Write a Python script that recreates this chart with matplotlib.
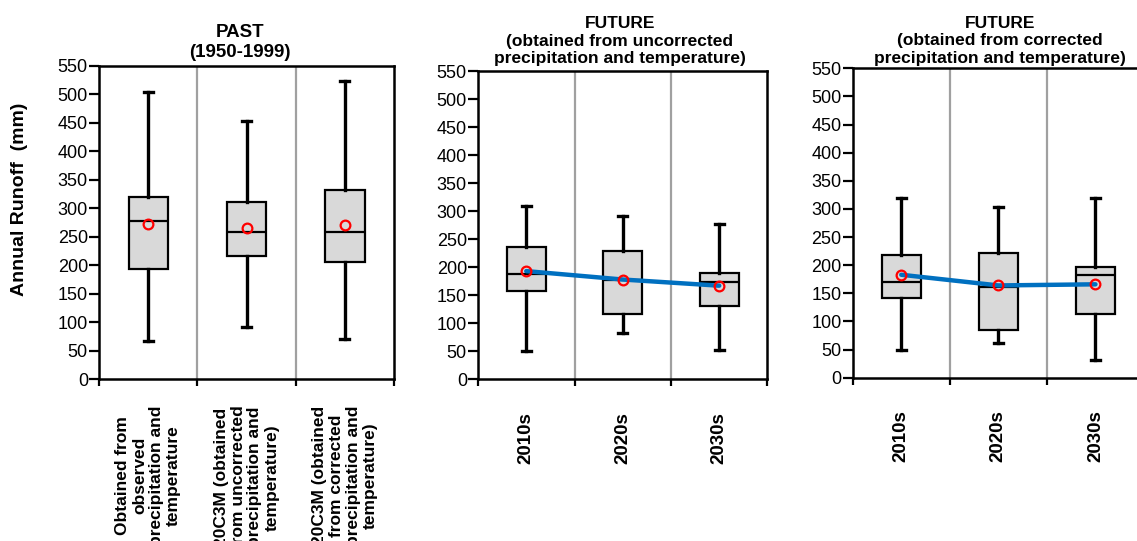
import matplotlib
matplotlib.use("Agg")
import matplotlib.pyplot as plt

plt.rcParams['font.family'] = ['Liberation Sans', 'DejaVu Sans']

# ---- data ----
past_labels = ["Obtained from\nobserved\nprecipitation and\ntemperature",
               "20C3M (obtained\nfrom uncorrected\nprecipitation and\ntemperature)",
               "20C3M (obtained\nfrom corrected\nprecipitation and\ntemperature)"]
past_whislo = [67, 91, 70]
past_q1 = [194, 217, 205]
past_med = [277, 258, 258]
past_q3 = [319, 311, 332]
past_whishi = [504, 454, 523]
past_mean = [272, 265, 271]

fut_labels = ["2010s", "2020s", "2030s"]

unc_whislo = [51, 83, 53]
unc_q1 = [158, 117, 131]
unc_med = [188, 177, 174]
unc_q3 = [236, 229, 190]
unc_whishi = [310, 291, 277]
unc_mean = [193, 178, 167]

cor_whislo = [50, 61, 32]
cor_q1 = [141, 84, 114]
cor_med = [170, 162, 183]
cor_q3 = [218, 221, 197]
cor_whishi = [319, 303, 319]
cor_mean = [183, 164, 166]

titles = ["PAST\n(1950-1999)",
          "FUTURE\n(obtained from uncorrected\nprecipitation and temperature)",
          "FUTURE\n(obtained from corrected\nprecipitation and temperature)"]

W, H = 1137, 541
fig = plt.figure(figsize=(W / 100, H / 100), dpi=100)

rects = [
    (99 / W, 1 - 379 / H, 295 / W, 313 / H),
    (478 / W, 1 - 379.3 / H, 289.5 / W, 308.3 / H),
    (852.7 / W, 1 - 377.7 / H, 291.3 / W, 309.4 / H),
]

datasets = [
    (past_labels, past_whislo, past_q1, past_med, past_q3, past_whishi, past_mean, False),
    (fut_labels, unc_whislo, unc_q1, unc_med, unc_q3, unc_whishi, unc_mean, True),
    (fut_labels, cor_whislo, cor_q1, cor_med, cor_q3, cor_whishi, cor_mean, True),
]

title_fs = [13.5, 12.5, 12.5]
title_ls = [1.27, 1.24, 1.24]
title_pad = [6.3, 5.4, 3.6]
title_x = [0.478, 0.49, 0.505]

for i, (rect, ds, title) in enumerate(zip(rects, datasets, titles)):
    labels, wlo, q1, med, q3, whi, mean, line = ds
    ax = fig.add_axes(rect)
    stats = []
    for k in range(len(labels)):
        stats.append(dict(med=med[k], q1=q1[k], q3=q3[k], whislo=wlo[k],
                          whishi=whi[k], fliers=[], label=labels[k]))
    pos = [1, 2, 3]
    ax.bxp(stats, positions=pos, widths=0.4, showfliers=False, patch_artist=True,
           capwidths=0.09,
           boxprops=dict(facecolor='#D9D9D9', edgecolor='black', linewidth=1.6),
           medianprops=dict(color='black', linewidth=1.6),
           whiskerprops=dict(color='black', linewidth=2.4),
           capprops=dict(color='black', linewidth=2.4), zorder=3)
    if line:
        ax.plot(pos, mean, color='#0070C0', linewidth=3.2, zorder=4,
                solid_capstyle='round')
    ax.plot(pos, mean, linestyle='none', marker='o', markersize=7,
            markerfacecolor='none', markeredgecolor='red', markeredgewidth=1.6,
            zorder=5)

    ax.set_xlim(0.5, 3.5)
    ax.set_ylim(0, 550)
    ax.set_yticks(range(0, 551, 50))
    ax.set_xticks([0.5, 1.5, 2.5, 3.5])
    ax.set_xticklabels([])
    ax.set_xticks(pos, minor=True)
    if i == 0:
        ax.set_xticklabels(labels, minor=True, rotation=90, fontsize=12.5,
                           fontweight='bold', multialignment='center', linespacing=1.16)
        ax.tick_params(axis='x', which='minor', length=0, pad=19)
    else:
        ax.set_xticklabels(labels, minor=True, rotation=90, fontsize=13.5,
                           fontweight='bold')
        ax.tick_params(axis='x', which='minor', length=0, pad=23.5)
    ax.tick_params(axis='x', which='major', length=5, width=1.6, direction='out')
    ax.tick_params(axis='y', length=7, width=1.6, direction='out', labelsize=13, pad=1)
    for b in [1.5, 2.5]:
        ax.axvline(b, color='#A0A0A0', linewidth=1.6, zorder=1)
    for sp in ax.spines.values():
        sp.set_linewidth(1.8)
    t = ax.set_title(title, fontsize=title_fs[i], fontweight='bold',
                     linespacing=title_ls[i], pad=title_pad[i])
    t.set_x(title_x[i])
    if i == 0:
        ax.set_ylabel("Annual Runoff  (mm)", fontsize=14, fontweight='bold')
        ax.yaxis.set_label_coords(-0.24, 0.575)

fig.savefig("out.png", dpi=100)
